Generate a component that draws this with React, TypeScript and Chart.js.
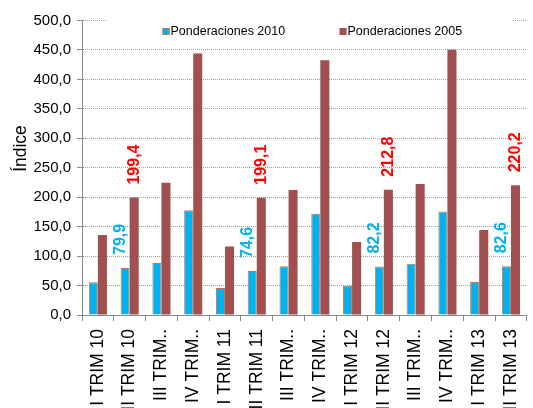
import React, { useEffect, useRef } from 'react';
import { Chart, registerables } from 'chart.js';

Chart.register(...registerables);

const CATEGORIES = [
  'I TRIM 10', 'II TRIM 10', 'III TRIM 10', 'IV TRIM 10',
  'I TRIM 11', 'II TRIM 11', 'III TRIM 11', 'IV TRIM 11',
  'I TRIM 12', 'II TRIM 12', 'III TRIM 12', 'IV TRIM 12',
  'I TRIM 13', 'II TRIM 13',
];
const SERIES_NAMES = ['Ponderaciones 2010', 'Ponderaciones 2005'];
const POND_2010 = [55.5, 79.9, 88.3, 178.0, 46.0, 74.6, 82.6, 171.7, 50.0, 82.2, 87.1, 175.6, 56.1, 82.6];
const POND_2005 = [136.0, 199.4, 224.7, 443.8, 116.4, 199.1, 212.3, 432.6, 123.9, 212.8, 222.5, 450.4, 144.2, 220.2];
const LABELED_INDEX = [1, 5, 9, 13];
const Y_MIN = 0;
const Y_MAX = 500;
const Y_STEP = 50;
const Y_TITLE = 'Índice';

const FONT = "'Liberation Sans', Arial, sans-serif";
const BLUE = '#00b0f0';
const BLUE_BORDER = '#c8783c';
const RED = '#a0504f';
const LABEL_RED = '#ff0000';

const fmt = (v: number) => v.toFixed(1).replace('.', ',');
const shortLabel = (s: string) =>
  s.startsWith('III') || s.startsWith('IV') ? s.slice(0, s.indexOf('TRIM') + 4) + '..' : s;

const valueLabels = {
  id: 'valueLabels',
  afterDatasetsDraw(chart: any) {
    const ctx = chart.ctx;
    chart.data.datasets.forEach((ds: any, di: number) => {
      const meta = chart.getDatasetMeta(di);
      LABELED_INDEX.forEach((idx) => {
        const el = meta.data[idx];
        if (!el) return;
        const x = el.x + (di === 0 ? -5 : 0);
        const y = el.y - 13;
        ctx.save();
        ctx.translate(x, y);
        ctx.rotate(-Math.PI / 2);
        ctx.font = `bold 16px ${FONT}`;
        ctx.fillStyle = di === 0 ? BLUE : LABEL_RED;
        ctx.textAlign = 'left';
        ctx.textBaseline = 'middle';
        ctx.fillText(fmt(ds.data[idx]), 0, 0);
        ctx.restore();
      });
    });
  },
};

const customLegend = {
  id: 'customLegend',
  afterDraw(chart: any) {
    const ctx = chart.ctx;
    ctx.save();
    ctx.fillStyle = '#ffffff';
    ctx.fillRect(107, 12, 406, 32);
    const boxX = [162.5, 339.5];
    chart.data.datasets.forEach((ds: any, i: number) => {
      const bx = boxX[i];
      ctx.fillStyle = ds.backgroundColor;
      ctx.fillRect(bx, 28, 7, 7);
      if (i === 0) {
        ctx.strokeStyle = BLUE_BORDER;
        ctx.lineWidth = 1;
        ctx.strokeRect(bx + 0.5, 28.5, 6, 6);
      }
      ctx.fillStyle = '#000000';
      ctx.font = `12.5px ${FONT}`;
      ctx.textAlign = 'left';
      ctx.textBaseline = 'middle';
      ctx.fillText(ds.label, bx + 8, 31.5);
    });
    ctx.restore();
  },
};

const yTitle = {
  id: 'yTitle',
  afterDraw(chart: any) {
    const ctx = chart.ctx;
    ctx.save();
    ctx.translate(21.5, 148.5);
    ctx.rotate(-Math.PI / 2);
    ctx.font = `17.5px ${FONT}`;
    ctx.fillStyle = '#000000';
    ctx.textAlign = 'center';
    ctx.textBaseline = 'middle';
    ctx.fillText(Y_TITLE, 0, 0);
    ctx.restore();
  },
};

export default function App() {
  const ref = useRef<HTMLCanvasElement>(null);

  useEffect(() => {
    if (!ref.current) return;
    const chart = new Chart(ref.current, {
      type: 'bar',
      data: {
        labels: CATEGORIES,
        datasets: [
          {
            label: SERIES_NAMES[0],
            data: POND_2010,
            backgroundColor: BLUE,
            borderColor: BLUE_BORDER,
            borderWidth: 1,
            categoryPercentage: 0.57,
            barPercentage: 1.0,
          },
          {
            label: SERIES_NAMES[1],
            data: POND_2005,
            backgroundColor: RED,
            borderWidth: 0,
            categoryPercentage: 0.57,
            barPercentage: 1.0,
          },
        ],
      },
      options: {
        responsive: false,
        animation: false,
        devicePixelRatio: 1,
        layout: { padding: { top: 20.5, right: 1, bottom: 0, left: 0 } },
        plugins: {
          legend: { display: false },
          tooltip: { enabled: false },
        },
        scales: {
          x: {
            grid: {
              drawOnChartArea: false,
              drawTicks: true,
              tickLength: 6,
              tickColor: '#888888',
              offset: true,
            },
            border: { display: true, color: '#888888', width: 1 },
            ticks: {
              autoSkip: false,
              minRotation: 90,
              maxRotation: 90,
              padding: 8,
              color: '#000000',
              font: { family: FONT, size: 17.5 },
              callback: (_v: any, idx: number) => shortLabel(CATEGORIES[idx]),
            },
            afterFit: (scale: any) => {
              scale.height = 93;
            },
          },
          y: {
            min: Y_MIN,
            max: Y_MAX,
            grid: {
              color: '#a0a0a0',
              lineWidth: 1,
              drawTicks: true,
              tickLength: 5,
              tickColor: '#888888',
              tickBorderDash: [],
            },
            border: { display: true, color: '#888888', width: 1, dash: [1, 1] },
            ticks: {
              stepSize: Y_STEP,
              padding: 6,
              color: '#000000',
              font: { family: FONT, size: 15 },
              callback: (v: any) => fmt(Number(v)),
            },
            afterFit: (scale: any) => {
              scale.width = 82;
            },
          },
        },
      },
      plugins: [valueLabels, yTitle, customLegend],
    });
    return () => chart.destroy();
  }, []);

  return (
    <div
      style={{
        position: 'fixed',
        left: 0,
        top: 0,
        width: 533,
        height: 408,
        overflow: 'hidden',
        background: '#ffffff',
      }}
    >
      <canvas ref={ref} width={540} height={408} style={{ width: 540, height: 408, display: 'block' }} />
    </div>
  );
}
